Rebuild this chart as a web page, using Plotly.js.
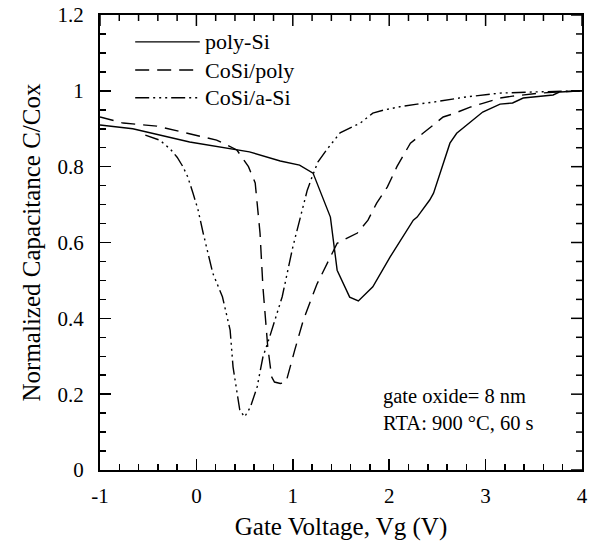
<!DOCTYPE html>
<html>
<head>
<meta charset="utf-8">
<script src="https://cdn.plot.ly/plotly-3.0.1.min.js"></script>
<style>html,body{margin:0;padding:0;background:#fff;}#chart{width:589px;height:549px;}</style>
</head>
<body>
<div id="chart"></div>
<script>
// Poly-Si (solid)
const polyV = [-1.0, -0.66, -0.07, 0.42, 0.55, 0.87, 1.07, 1.21, 1.39, 1.46, 1.59, 1.68, 1.77, 1.83, 2.01, 2.25, 2.29, 2.42, 2.46, 2.55, 2.63, 2.70, 2.84, 2.97, 3.15, 3.28, 3.39, 3.70, 3.77, 4.0];
const polyC = [0.91, 0.90, 0.865, 0.846, 0.839, 0.815, 0.804, 0.783, 0.667, 0.527, 0.456, 0.446, 0.467, 0.483, 0.562, 0.659, 0.667, 0.712, 0.73, 0.80, 0.862, 0.888, 0.918, 0.944, 0.965, 0.968, 0.981, 0.989, 0.997, 1.0];
// CoSi/poly (dashed)
const cosiPolyV = [-1.0, -0.76, -0.41, -0.10, 0.21, 0.42, 0.54, 0.61, 0.66, 0.69, 0.74, 0.78, 0.81, 0.87, 0.93, 1.02, 1.11, 1.25, 1.46, 1.67, 1.78, 1.87, 1.98, 2.08, 2.22, 2.35, 2.56, 2.66, 2.84, 2.97, 3.15, 3.28, 3.56, 3.74, 4.0];
const cosiPolyC = [0.931, 0.915, 0.907, 0.889, 0.87, 0.844, 0.80, 0.757, 0.625, 0.483, 0.325, 0.246, 0.232, 0.228, 0.232, 0.316, 0.396, 0.49, 0.598, 0.625, 0.659, 0.704, 0.746, 0.80, 0.862, 0.888, 0.931, 0.939, 0.957, 0.967, 0.981, 0.986, 0.994, 0.997, 1.0];
// CoSi/a-Si (dash-dot-dot)
const cosiASiV = [-0.53, -0.38, -0.27, -0.20, -0.14, -0.09, -0.035, 0.017, 0.07, 0.12, 0.17, 0.27, 0.35, 0.38, 0.42, 0.45, 0.50, 0.56, 0.63, 0.69, 0.76, 0.84, 0.89, 1.0, 1.07, 1.15, 1.20, 1.26, 1.35, 1.49, 1.70, 1.83, 1.94, 2.11, 2.29, 2.45, 2.80, 3.15, 3.49, 4.0];
const cosiASiC = [0.883, 0.87, 0.846, 0.825, 0.80, 0.773, 0.730, 0.686, 0.625, 0.572, 0.519, 0.457, 0.369, 0.272, 0.203, 0.158, 0.140, 0.166, 0.219, 0.298, 0.351, 0.414, 0.457, 0.588, 0.659, 0.738, 0.773, 0.812, 0.844, 0.889, 0.915, 0.941, 0.949, 0.958, 0.965, 0.970, 0.984, 0.994, 0.997, 1.0];

const seriesNames = ["poly-Si", "CoSi/poly", "CoSi/a-Si"];
const xTickVals = [-1, 0, 1, 2, 3, 4];
const xTickText = ["-1", "0", "1", "2", "3", "4"];
const yTickVals = [0, 0.2, 0.4, 0.6, 0.8, 1, 1.2];
const yTickText = ["0", "0.2", "0.4", "0.6", "0.8", "1", "1.2"];
const noteLines = ["gate oxide= 8 nm", "RTA: 900 °C, 60 s"];

const dashes = ["solid", "14px,8px", "14px,4px,2px,4px,2px,4px,2px,4px"];
const font = "Liberation Serif, Times New Roman, serif";

const traces = [
  {x: polyV, y: polyC, name: seriesNames[0], mode: "lines", line: {color: "#000", width: 1.4, dash: dashes[0]}},
  {x: cosiPolyV, y: cosiPolyC, name: seriesNames[1], mode: "lines", line: {color: "#000", width: 1.4, dash: dashes[1]}},
  {x: cosiASiV, y: cosiASiC, name: seriesNames[2], mode: "lines", line: {color: "#000", width: 1.4, dash: dashes[2]}}
];

const W = 589, H = 549, M = {l: 100, r: 7, t: 15, b: 79};
const plotW = W - M.l - M.r, plotH = H - M.t - M.b;

const shapes = [];
const annotations = [];

// mirrored ticks on the top and right frame edges (positions in axis data units)
const tickLine = {color: "#000", width: 1.5};
for (let k = 0; k <= 25; k++) {
  const xv = -1 + k * 0.2;
  const len = (k % 5 === 0 ? 11 : 6) / plotH;
  shapes.push({type: "line", xref: "x", yref: "paper", x0: xv, x1: xv, y0: 1, y1: 1 - len, line: tickLine});
}
for (let k = 0; k <= 24; k++) {
  const yv = k * 0.05;
  const len = (k % 4 === 0 ? 11 : 6) / plotW;
  shapes.push({type: "line", xref: "paper", yref: "y", x0: 1, x1: 1 - len, y0: yv, y1: yv, line: tickLine});
}

const legY = [0.941, 0.879, 0.818];
for (let i = 0; i < 3; i++) {
  shapes.push({type: "line", xref: "paper", yref: "paper", x0: 0.073, x1: 0.207, y0: legY[i], y1: legY[i], line: {color: "#000", width: 1.4, dash: dashes[i]}});
  annotations.push({xref: "paper", yref: "paper", x: 0.214, y: legY[i], xanchor: "left", yanchor: "middle", text: seriesNames[i], showarrow: false, font: {family: font, size: 22, color: "#000"}});
}
const noteY = [0.162, 0.104];
for (let i = 0; i < 2; i++) {
  annotations.push({xref: "paper", yref: "paper", x: 0.583, y: noteY[i], xanchor: "left", yanchor: "middle", text: noteLines[i], showarrow: false, font: {family: font, size: 20.5, color: "#000"}});
}

const tickCommon = {ticks: "inside", tickwidth: 1.5, tickcolor: "#000", showline: true, linecolor: "#000", linewidth: 2, mirror: true, showgrid: false, zeroline: false};

const layout = {
  width: W, height: H,
  margin: M,
  paper_bgcolor: "#fff", plot_bgcolor: "#fff",
  showlegend: false,
  font: {family: font, size: 21, color: "#000"},
  xaxis: Object.assign({}, tickCommon, {
    range: [-1, 4], tickvals: xTickVals, ticktext: xTickText, ticklen: 11,
    minor: {dtick: 0.2, ticks: "inside", ticklen: 6, tickwidth: 1.5, tickcolor: "#000"},
    ticklabelstandoff: 6,
    tickfont: {family: font, size: 21},
    title: {text: "Gate Voltage, Vg (V)", font: {family: font, size: 25}, standoff: 10}
  }),
  yaxis: Object.assign({}, tickCommon, {
    range: [0, 1.2], tickvals: yTickVals, ticktext: yTickText, ticklen: 11,
    minor: {dtick: 0.05, ticks: "inside", ticklen: 6, tickwidth: 1.5, tickcolor: "#000"},
    ticklabelstandoff: 10,
    tickfont: {family: font, size: 21},
    title: {text: "Normalized Capacitance C/Cox", font: {family: font, size: 25}, standoff: 10}
  }),
  shapes: shapes,
  annotations: annotations
};

Plotly.newPlot("chart", traces, layout, {staticPlot: true, displayModeBar: false});
</script>
</body>
</html>
